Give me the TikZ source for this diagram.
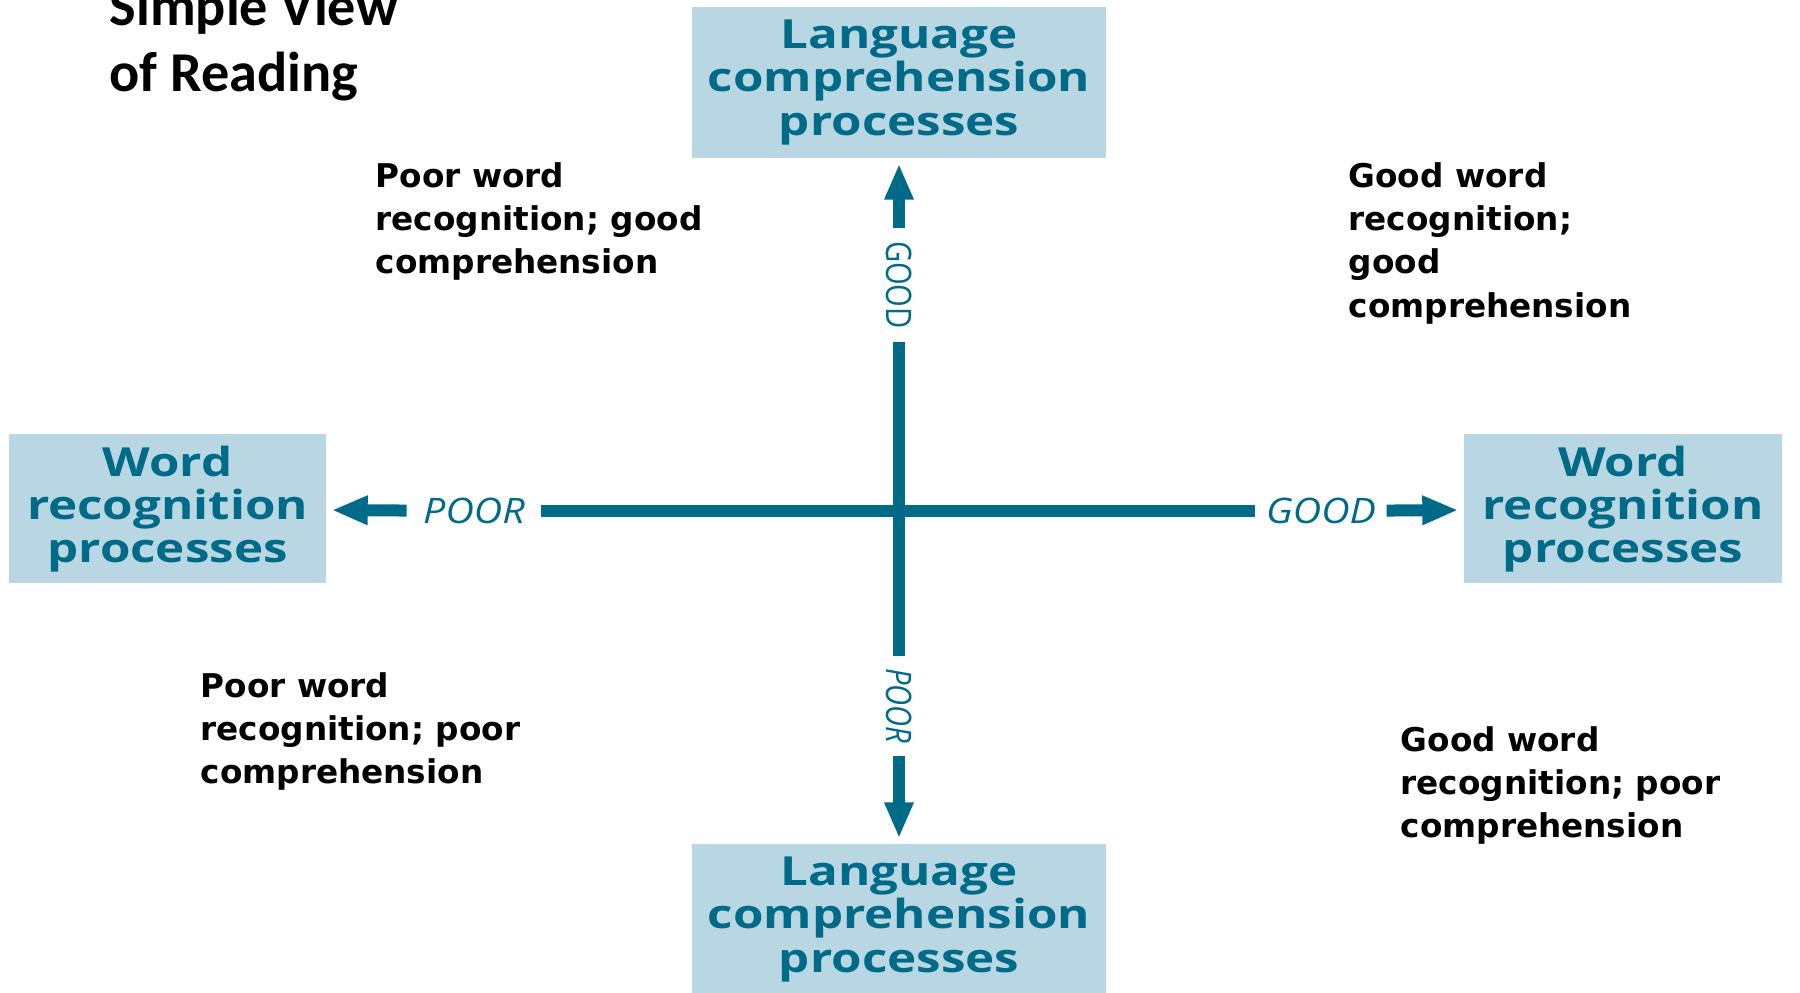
\documentclass[tikz,border=0pt]{standalone}
\usepackage{fontspec}
\setmainfont{DejaVu Sans}
\newfontfamily\titlefont{Carlito}
\newfontfamily\boxfont{Open Sans}[FakeStretch=1.23]
\newfontfamily\lblfont{Open Sans}[FakeStretch=1.12]
\newfontfamily\narrowlbl{Open Sans}[FakeStretch=0.83]
\usetikzlibrary{arrows.meta}
\definecolor{svrteal}{RGB}{0,106,137}
\definecolor{svrbox}{RGB}{184,215,226}
\begin{document}
\begin{tikzpicture}
  \tikzset{proc/.style={fill=svrbox,text=svrteal,align=center,inner sep=0pt,
      font=\boxfont\bfseries\fontsize{11.4}{12.3}\selectfont},
    axislbl/.style={text=svrteal,inner xsep=0.12cm,inner ysep=0pt,
      font=\lblfont\itshape\fontsize{10}{11}\selectfont},
    vlbl/.style={axislbl,rotate=-90,font=\narrowlbl\fontsize{10}{11}\selectfont},
    quad/.style={anchor=north west,align=left,inner sep=0pt,
      font=\bfseries\fontsize{9.3}{12.3}\selectfont},
    axis/.style={draw=svrteal,line width=0.12cm},
    tip/.style={-{Triangle[length=0.36cm,width=0.27cm]},shorten >=0.05cm}}
  \useasboundingbox (0,0) rectangle (18,9.93);
  \node[anchor=north west,align=left,inner sep=0pt,
    font=\titlefont\bfseries\fontsize{16}{18.8}\selectfont] (title) at (1.09,10.08) {Simple View\\of Reading};
  \node[proc,minimum width=4.14cm,minimum height=1.51cm] (lt) at (8.99,9.105) {Language\\comprehension\\processes};
  \node[proc,minimum width=4.14cm,minimum height=1.51cm] (lb) at (8.99,0.735) {Language\\comprehension\\processes};
  \node[proc,minimum width=3.17cm,minimum height=1.49cm] (wl) at (1.675,4.84) {Word\\recognition\\processes};
  \node[proc,minimum width=3.18cm,minimum height=1.49cm] (wr) at (16.23,4.84) {Word\\recognition\\processes};
  \node[axislbl,inner xsep=0.16cm] (pl) at (4.74,4.82) {POOR};
  \node[axislbl,inner xsep=0.1cm] (gr) at (13.21,4.82) {GOOD};
  \node[vlbl] (gu) at (8.99,7.08) {GOOD};
  \node[vlbl,font=\narrowlbl\itshape\fontsize{10}{11}\selectfont] (pd) at (8.99,2.87) {POOR};
  \draw[axis] (pl) -- (gr);
  \draw[axis] (gu) -- (pd);
  \draw[axis,tip] (pl) -- (wl);
  \draw[axis,tip] (gr) -- (wr);
  \draw[axis,tip] (gu) -- (lt);
  \draw[axis,tip] (pd) -- (lb);
  \node[quad] (q1) at (3.75,8.31) {Poor word\\recognition; good\\comprehension};
  \node[quad] (q2) at (13.48,8.31) {Good word\\recognition;\\good\\comprehension};
  \node[quad] (q3) at (2.00,3.21) {Poor word\\recognition; poor\\comprehension};
  \node[quad] (q4) at (14.00,2.675) {Good word\\recognition; poor\\comprehension};
\end{tikzpicture}
\end{document}
